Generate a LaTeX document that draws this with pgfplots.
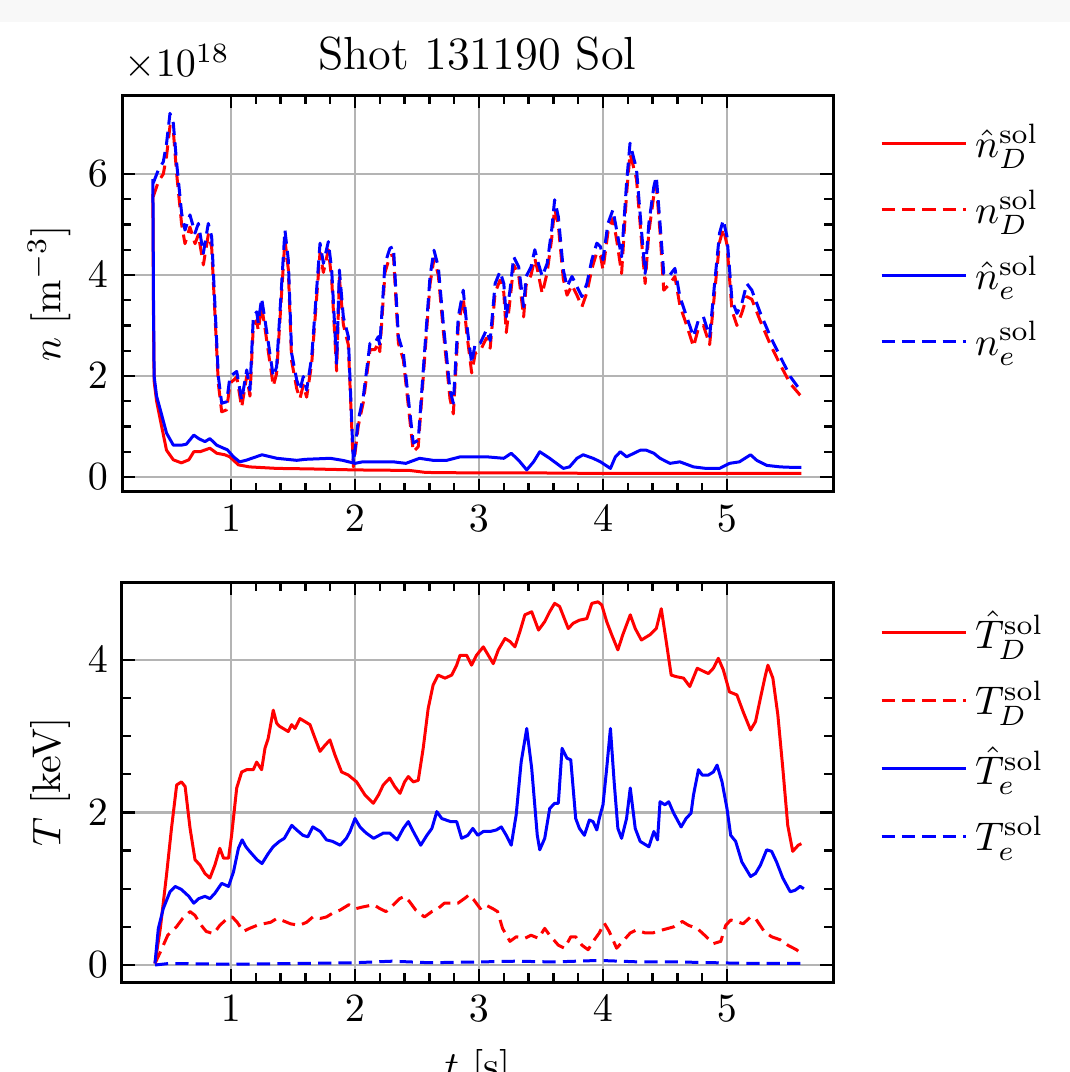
\documentclass[border=0pt]{standalone}
\usepackage{pgfplots}
\pgfplotsset{compat=1.18}
\definecolor{gridgray}{RGB}{180,180,180}
\definecolor{bandgray}{RGB}{248,248,248}
\pgfplotsset{
  myaxis/.style={
    scale only axis,
    width=177.75pt,
    xmin=0.121, xmax=5.855,
    xtick={1,2,3,4,5},
    minor x tick num=4,
    minor y tick num=3,
    grid=major,
    major grid style={gridgray, line width=0.6pt},
    axis line style={line width=0.75pt},
    every tick/.style={black, line width=0.6pt},
    major tick length=3.25pt,
    minor tick length=2.25pt,
    tick align=inside,
    tick pos=both,
    clip mode=individual,
    ylabel style={yshift=-2.5pt},
    legend style={draw=none, fill=none, at={(1.065,0.95)}, anchor=north west,
      row sep=2.5pt, font=\normalsize, inner sep=0pt, cells={anchor=west}},
    legend cell align=left,
    legend image code/.code={\draw[#1] (0pt,0pt) -- (21pt,0pt);},
    every axis plot/.append style={line width=0.75pt, line join=round},
  },
  dsh/.style={dash pattern=on 3.3pt off 1.8pt},
}
\begin{document}
\begin{tikzpicture}
\useasboundingbox (0,0) rectangle (267.5pt,-268pt);
\fill[bandgray] (0,0) rectangle (267.5pt,-5.5pt);
% ---------------- top axis ----------------
\begin{axis}[myaxis,
  at={(30.5pt,-23.75pt)}, anchor=north west,
  height=99.25pt,
  ymin=-0.297, ymax=7.564,
  ytick={0,2,4,6},
  ylabel={$n$ $[\mathrm{m}^{-3}]$},
  title={Shot 131190 Sol},
  title style={font=\fontsize{11.6}{14}\selectfont, yshift=-3.5pt},
]
\node[anchor=south west, inner sep=0pt, xshift=0.5pt, yshift=3.5pt] at (rel axis cs:0,1) {$\times10^{18}$};
% n hat D (red solid)
\addplot[red] coordinates {
(0.37,5.6)(0.375,3.2)(0.38,1.9)(0.40,1.5)(0.43,1.13)(0.48,0.53)(0.535,0.34)(0.6,0.28)(0.66,0.34)(0.70,0.50)(0.75,0.50)(0.83,0.57)(0.885,0.47)(0.95,0.44)(0.99,0.40)(1.06,0.24)(1.15,0.20)(1.37,0.17)(1.64,0.16)(2.0,0.14)(2.44,0.13)(2.57,0.09)(2.98,0.08)(3.5,0.08)(4.0,0.07)(4.5,0.07)(5.0,0.07)(5.6,0.07)
};
\addlegendentry{$\hat{n}_D^{\mathrm{sol}}$}
% n D (red dashed)
\addplot[red, dsh] coordinates {
(0.373,5.55)(0.414,5.85)(0.454,6.0)(0.48,6.35)(0.508,6.95)(0.535,6.85)(0.562,6.0)(0.602,5.0)(0.629,4.62)(0.669,4.95)(0.71,4.62)(0.737,4.8)(0.777,4.2)(0.817,4.8)(0.844,4.55)(0.898,1.85)(0.925,1.29)(0.965,1.33)(0.992,1.85)(1.046,1.98)(1.086,1.38)(1.127,2.0)(1.153,1.6)(1.18,3.0)(1.207,3.1)(1.22,2.9)(1.247,3.38)(1.274,2.95)(1.341,1.8)(1.368,2.05)(1.435,4.7)(1.462,4.12)(1.489,2.3)(1.53,1.75)(1.556,1.55)(1.583,1.82)(1.61,1.58)(1.651,2.25)(1.718,4.45)(1.745,4.05)(1.785,4.5)(1.812,3.92)(1.852,2.1)(1.874,3.95)(1.906,3.02)(1.946,2.62)(1.987,0.2)(2.027,1.02)(2.067,1.48)(2.121,2.52)(2.16,2.52)(2.188,2.65)(2.2,2.48)(2.242,4.05)(2.282,4.38)(2.31,4.4)(2.35,2.65)(2.39,2.32)(2.47,0.5)(2.51,0.6)(2.605,3.82)(2.637,4.32)(2.672,4.0)(2.712,2.9)(2.766,1.55)(2.793,1.25)(2.833,3.0)(2.873,3.55)(2.9,2.88)(2.941,2.06)(2.97,2.45)(3.01,2.5)(3.06,2.75)(3.09,2.55)(3.13,3.65)(3.17,3.9)(3.2,3.65)(3.22,2.86)(3.25,3.5)(3.28,4.2)(3.32,4.0)(3.36,3.17)(3.38,3.8)(3.42,4.0)(3.45,4.33)(3.47,4.12)(3.51,3.63)(3.55,4.05)(3.586,4.72)(3.61,5.32)(3.64,4.98)(3.68,3.92)(3.71,3.6)(3.75,3.8)(3.79,3.6)(3.83,3.37)(3.87,3.65)(3.91,4.12)(3.95,4.45)(3.98,4.38)(4.0,4.1)(4.04,4.85)(4.08,5.12)(4.11,4.7)(4.15,4.03)(4.19,5.6)(4.218,6.4)(4.245,6.15)(4.27,5.9)(4.31,4.7)(4.34,3.83)(4.37,4.85)(4.41,5.58)(4.43,5.78)(4.46,4.85)(4.49,3.7)(4.53,3.8)(4.58,3.97)(4.62,3.4)(4.675,3.0)(4.73,2.58)(4.77,2.95)(4.81,3.0)(4.86,2.62)(4.90,3.65)(4.94,4.65)(4.97,4.92)(5.0,4.6)(5.04,3.3)(5.08,3.0)(5.12,3.25)(5.16,3.57)(5.2,3.52)(5.27,3.08)(5.35,2.62)(5.43,2.22)(5.51,1.85)(5.59,1.62)(5.6,1.6)
};
\addlegendentry{$n_D^{\mathrm{sol}}$}
% n hat e (blue solid)
\addplot[blue] coordinates {
(0.37,5.9)(0.375,3.5)(0.38,2.0)(0.40,1.6)(0.43,1.33)(0.48,0.87)(0.535,0.63)(0.6,0.63)(0.64,0.65)(0.70,0.83)(0.74,0.76)(0.79,0.70)(0.83,0.76)(0.885,0.63)(0.94,0.57)(0.97,0.54)(1.02,0.40)(1.07,0.30)(1.12,0.33)(1.25,0.44)(1.37,0.37)(1.53,0.33)(1.6,0.35)(1.80,0.37)(1.9,0.33)(2.0,0.27)(2.06,0.30)(2.31,0.30)(2.41,0.27)(2.52,0.37)(2.63,0.33)(2.74,0.33)(2.85,0.40)(2.98,0.40)(3.06,0.40)(3.2,0.37)(3.26,0.47)(3.32,0.33)(3.385,0.14)(3.44,0.30)(3.49,0.50)(3.57,0.37)(3.68,0.17)(3.73,0.2)(3.79,0.37)(3.84,0.44)(3.92,0.37)(3.98,0.30)(4.06,0.17)(4.1,0.40)(4.14,0.50)(4.19,0.40)(4.25,0.47)(4.30,0.53)(4.35,0.53)(4.41,0.47)(4.46,0.37)(4.54,0.27)(4.62,0.30)(4.73,0.20)(4.83,0.17)(4.94,0.17)(5.02,0.27)(5.1,0.30)(5.19,0.44)(5.24,0.33)(5.32,0.23)(5.43,0.20)(5.53,0.19)(5.6,0.19)
};
\addlegendentry{$\hat{n}_e^{\mathrm{sol}}$}
% n e (blue dashed)
\addplot[blue, dsh] coordinates {
(0.373,5.82)(0.414,6.08)(0.454,6.24)(0.48,6.6)(0.508,7.20)(0.535,7.0)(0.562,6.21)(0.602,5.22)(0.629,4.89)(0.669,5.19)(0.71,4.83)(0.737,5.02)(0.777,4.43)(0.817,5.02)(0.844,4.76)(0.898,1.99)(0.925,1.46)(0.965,1.49)(0.992,1.99)(1.046,2.09)(1.086,1.52)(1.127,2.12)(1.153,1.72)(1.18,3.17)(1.207,3.27)(1.22,3.05)(1.247,3.54)(1.274,3.11)(1.341,1.99)(1.368,2.18)(1.435,4.89)(1.462,4.30)(1.489,2.45)(1.53,1.92)(1.556,1.72)(1.583,1.99)(1.61,1.72)(1.651,2.38)(1.718,4.63)(1.745,4.23)(1.785,4.66)(1.812,4.10)(1.852,2.25)(1.874,4.10)(1.906,3.17)(1.946,2.78)(1.987,0.27)(2.027,1.13)(2.067,1.59)(2.121,2.65)(2.16,2.65)(2.188,2.78)(2.2,2.6)(2.242,4.23)(2.282,4.53)(2.31,4.56)(2.35,2.78)(2.39,2.45)(2.47,0.67)(2.51,0.73)(2.605,3.97)(2.637,4.49)(2.672,4.16)(2.712,3.04)(2.766,1.72)(2.793,1.46)(2.833,3.17)(2.873,3.70)(2.9,3.04)(2.941,2.25)(2.97,2.65)(3.01,2.65)(3.06,2.91)(3.09,2.7)(3.13,3.83)(3.17,4.07)(3.2,3.83)(3.22,3.17)(3.25,3.70)(3.28,4.36)(3.32,4.16)(3.36,3.37)(3.38,3.97)(3.42,4.16)(3.45,4.5)(3.47,4.3)(3.51,3.97)(3.55,4.23)(3.586,4.89)(3.61,5.49)(3.64,5.15)(3.68,4.10)(3.71,3.77)(3.75,3.97)(3.79,3.77)(3.83,3.57)(3.87,3.83)(3.91,4.30)(3.95,4.63)(3.98,4.56)(4.0,4.30)(4.04,5.02)(4.08,5.29)(4.11,4.89)(4.15,4.36)(4.19,5.82)(4.218,6.61)(4.245,6.34)(4.27,6.1)(4.31,4.89)(4.34,4.03)(4.37,5.02)(4.41,5.75)(4.43,5.95)(4.46,5.02)(4.49,4.03)(4.53,3.97)(4.58,4.13)(4.62,3.57)(4.675,3.17)(4.73,2.78)(4.77,3.11)(4.81,3.17)(4.86,2.78)(4.90,3.83)(4.94,4.83)(4.97,5.09)(5.0,4.76)(5.04,3.50)(5.08,3.24)(5.12,3.44)(5.16,3.83)(5.2,3.70)(5.27,3.24)(5.35,2.78)(5.43,2.38)(5.51,1.99)(5.59,1.72)(5.6,1.70)
};
\addlegendentry{$n_e^{\mathrm{sol}}$}
\end{axis}
% ---------------- bottom axis ----------------
\begin{axis}[myaxis,
  at={(30.5pt,-145.5pt)}, anchor=north west,
  height=100pt,
  ymin=-0.223, ymax=5.02,
  ytick={0,2,4},
  ylabel={$T$ [keV]},
  xlabel={$t$ [s]},
]
% T hat D (red solid)
\addplot[red] coordinates {
(0.387,0.02)(0.43,0.48)(0.48,1.18)(0.52,1.79)(0.562,2.36)(0.6,2.40)(0.63,2.34)(0.67,1.79)(0.71,1.38)(0.75,1.31)(0.79,1.20)(0.83,1.14)(0.87,1.31)(0.91,1.53)(0.94,1.40)(0.98,1.40)(1.005,1.70)(1.046,2.32)(1.086,2.53)(1.127,2.56)(1.18,2.56)(1.207,2.66)(1.247,2.56)(1.274,2.84)(1.30,2.97)(1.341,3.34)(1.368,3.17)(1.39,3.13)(1.462,3.06)(1.489,3.15)(1.516,3.1)(1.556,3.23)(1.597,3.19)(1.637,3.15)(1.678,2.97)(1.718,2.80)(1.758,2.88)(1.798,2.95)(1.839,2.75)(1.892,2.53)(1.946,2.49)(2.013,2.40)(2.08,2.23)(2.148,2.12)(2.19,2.23)(2.228,2.36)(2.28,2.45)(2.32,2.34)(2.363,2.25)(2.40,2.40)(2.43,2.47)(2.47,2.40)(2.51,2.42)(2.55,2.84)(2.59,3.36)(2.63,3.67)(2.67,3.80)(2.726,3.76)(2.78,3.80)(2.82,3.93)(2.847,4.06)(2.9,4.06)(2.94,3.93)(2.98,4.06)(3.035,4.17)(3.075,4.06)(3.115,3.95)(3.156,4.13)(3.21,4.28)(3.25,4.24)(3.29,4.17)(3.33,4.37)(3.37,4.59)(3.425,4.63)(3.48,4.39)(3.53,4.50)(3.57,4.63)(3.61,4.74)(3.65,4.70)(3.72,4.41)(3.76,4.48)(3.81,4.52)(3.87,4.54)(3.91,4.74)(3.96,4.76)(3.99,4.72)(4.03,4.50)(4.07,4.33)(4.12,4.13)(4.16,4.33)(4.22,4.59)(4.26,4.41)(4.31,4.26)(4.38,4.33)(4.43,4.41)(4.47,4.67)(4.51,4.24)(4.55,3.80)(4.59,3.78)(4.65,3.76)(4.70,3.65)(4.76,3.89)(4.81,3.85)(4.85,3.82)(4.89,3.89)(4.93,4.02)(4.97,3.87)(5.02,3.58)(5.08,3.54)(5.13,3.32)(5.19,3.08)(5.23,3.19)(5.27,3.50)(5.31,3.80)(5.33,3.93)(5.37,3.76)(5.41,3.28)(5.45,2.58)(5.49,1.83)(5.53,1.49)(5.575,1.57)(5.60,1.59)
};
\addlegendentry{$\hat{T}_D^{\mathrm{sol}}$}
% T D (red dashed)
\addplot[red, dsh] coordinates {
(0.387,0.02)(0.43,0.17)(0.49,0.39)(0.56,0.50)(0.61,0.61)(0.67,0.70)(0.71,0.65)(0.75,0.54)(0.80,0.44)(0.86,0.41)(0.91,0.52)(0.97,0.61)(1.01,0.63)(1.05,0.56)(1.10,0.44)(1.15,0.48)(1.21,0.52)(1.26,0.54)(1.32,0.56)(1.37,0.61)(1.42,0.58)(1.48,0.54)(1.55,0.52)(1.61,0.56)(1.66,0.63)(1.72,0.61)(1.77,0.63)(1.82,0.68)(1.88,0.72)(1.95,0.79)(2.01,0.74)(2.06,0.76)(2.15,0.79)(2.20,0.74)(2.25,0.70)(2.31,0.79)(2.36,0.87)(2.40,0.90)(2.44,0.83)(2.49,0.72)(2.56,0.63)(2.62,0.70)(2.67,0.74)(2.72,0.81)(2.78,0.81)(2.83,0.81)(2.89,0.88)(2.92,0.92)(2.96,0.85)(3.01,0.74)(3.05,0.79)(3.11,0.74)(3.15,0.70)(3.19,0.48)(3.25,0.31)(3.30,0.37)(3.37,0.35)(3.42,0.39)(3.48,0.35)(3.53,0.48)(3.57,0.39)(3.64,0.26)(3.69,0.22)(3.74,0.37)(3.78,0.37)(3.83,0.26)(3.88,0.20)(3.93,0.33)(3.97,0.42)(4.01,0.55)(4.05,0.44)(4.11,0.22)(4.16,0.31)(4.22,0.42)(4.27,0.46)(4.34,0.42)(4.40,0.42)(4.48,0.46)(4.57,0.50)(4.64,0.57)(4.69,0.52)(4.76,0.48)(4.82,0.39)(4.89,0.28)(4.95,0.31)(4.99,0.52)(5.03,0.59)(5.08,0.57)(5.13,0.54)(5.19,0.63)(5.23,0.61)(5.30,0.44)(5.36,0.37)(5.43,0.33)(5.49,0.26)(5.56,0.20)(5.60,0.15)
};
\addlegendentry{$T_D^{\mathrm{sol}}$}
% T hat e (blue solid)
\addplot[blue] coordinates {
(0.387,0.02)(0.414,0.48)(0.454,0.74)(0.508,0.96)(0.55,1.03)(0.6,0.99)(0.66,0.90)(0.70,0.81)(0.74,0.87)(0.79,0.90)(0.83,0.87)(0.87,0.94)(0.925,1.07)(0.98,1.03)(1.02,1.22)(1.06,1.53)(1.09,1.64)(1.12,1.55)(1.15,1.49)(1.21,1.38)(1.25,1.33)(1.30,1.46)(1.34,1.55)(1.39,1.62)(1.43,1.66)(1.49,1.83)(1.53,1.77)(1.58,1.70)(1.62,1.68)(1.66,1.81)(1.72,1.75)(1.77,1.64)(1.82,1.62)(1.88,1.57)(1.93,1.66)(1.96,1.75)(2.0,1.92)(2.04,1.81)(2.09,1.73)(2.15,1.66)(2.23,1.73)(2.28,1.73)(2.34,1.64)(2.39,1.79)(2.43,1.88)(2.47,1.75)(2.53,1.57)(2.58,1.70)(2.62,1.79)(2.66,2.01)(2.70,1.92)(2.77,1.88)(2.82,1.88)(2.86,1.66)(2.91,1.70)(2.95,1.79)(2.99,1.70)(3.035,1.75)(3.09,1.75)(3.14,1.77)(3.18,1.81)(3.22,1.70)(3.26,1.57)(3.30,1.97)(3.34,2.66)(3.385,3.10)(3.425,2.58)(3.47,1.70)(3.49,1.51)(3.53,1.66)(3.57,2.05)(3.61,2.12)(3.64,2.12)(3.67,2.84)(3.71,2.71)(3.74,2.69)(3.78,1.92)(3.81,1.79)(3.85,1.70)(3.89,1.90)(3.92,1.88)(3.95,1.77)(3.97,1.92)(4.0,2.10)(4.03,2.58)(4.06,3.10)(4.09,2.40)(4.12,1.79)(4.15,1.66)(4.19,1.92)(4.22,2.32)(4.26,1.79)(4.30,1.62)(4.37,1.55)(4.41,1.75)(4.44,1.64)(4.46,2.14)(4.50,2.10)(4.53,2.14)(4.57,1.99)(4.63,1.81)(4.67,1.92)(4.71,1.99)(4.73,2.23)(4.77,2.56)(4.80,2.49)(4.85,2.49)(4.89,2.53)(4.92,2.62)(4.96,2.40)(5.0,2.05)(5.03,1.70)(5.07,1.62)(5.12,1.35)(5.19,1.16)(5.23,1.20)(5.27,1.31)(5.32,1.51)(5.36,1.49)(5.40,1.35)(5.45,1.14)(5.51,0.96)(5.55,0.98)(5.59,1.03)(5.62,1.0)
};
\addlegendentry{$\hat{T}_e^{\mathrm{sol}}$}
% T e (blue dashed)
\addplot[blue, dsh] coordinates {
(0.387,0.0)(0.5,0.02)(1.0,0.01)(1.5,0.02)(2.0,0.03)(2.3,0.05)(2.6,0.03)(3.0,0.04)(3.3,0.05)(3.6,0.04)(3.97,0.06)(4.3,0.04)(4.6,0.04)(4.9,0.03)(5.2,0.02)(5.6,0.02)
};
\addlegendentry{$T_e^{\mathrm{sol}}$}
\end{axis}
\end{tikzpicture}
\end{document}
